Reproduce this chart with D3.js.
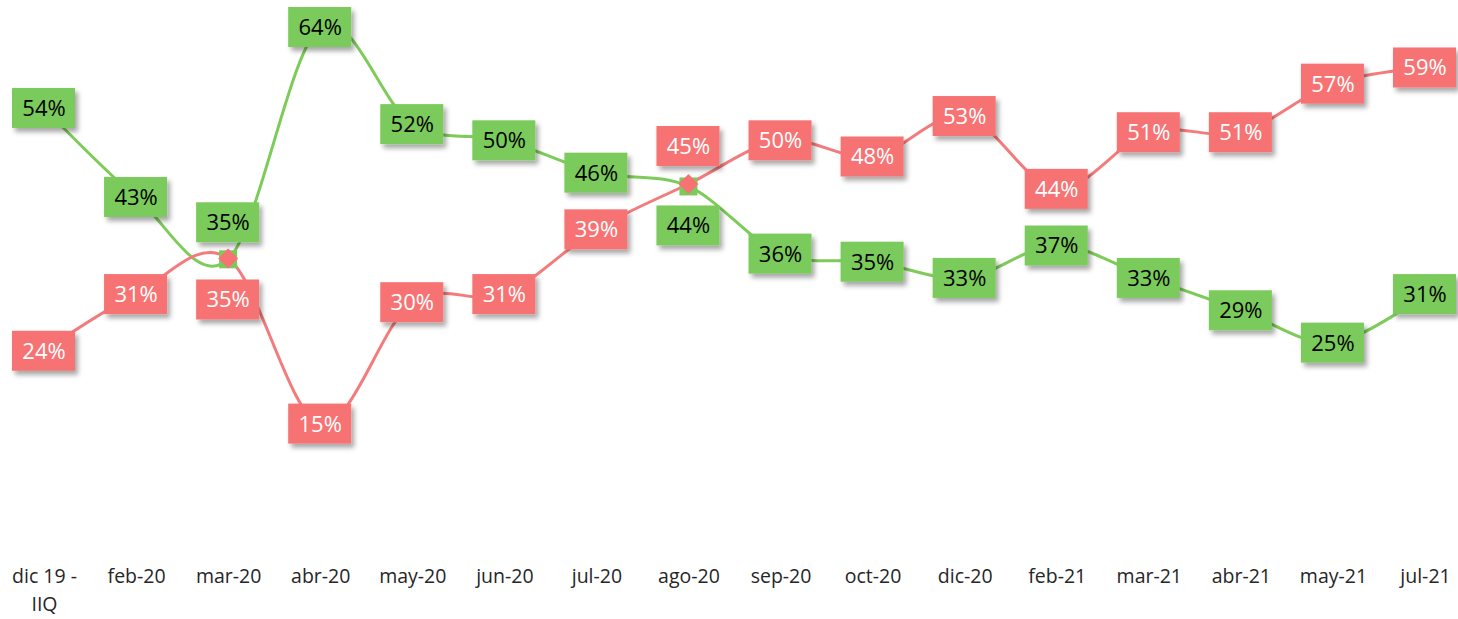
<!DOCTYPE html>
<html>
<head>
<meta charset="utf-8">
<script src="https://d3js.org/d3.v7.min.js"></script>
<style>
  html, body { margin: 0; padding: 0; background: #fff; }
  svg { display: block; }
</style>
</head>
<body>
<div id="chart"></div>
<script>
// categories and values
var categories = ["dic 19 - IIQ", "feb-20", "mar-20", "abr-20", "may-20", "jun-20", "jul-20", "ago-20",
  "sep-20", "oct-20", "dic-20", "feb-21", "mar-21", "abr-21", "may-21", "jul-21"];
var greenValues = [54, 43, 35.3, 64, 52, 50, 46, 44.3, 36, 35, 33, 37, 33, 29, 25, 31];
var redValues = [24, 31, 35.4, 15, 30, 31, 39, 44.6, 50, 48, 53, 44, 51, 51, 57, 59];

var width = 1458, height = 619;
var greenColor = "#7acb5b", redColor = "#f77373";
var greenLine = "#7dcb58", redLine = "#f47b7b";

// labels moved away from the crossing points (index -> vertical shift)
var greenShift = { 2: -37, 7: 39 };
var redShift = { 2: 41, 7: -38 };

var svg = d3.select("#chart").append("svg")
  .attr("width", width)
  .attr("height", height)
  .style("font-family", "'Open Sans', sans-serif");

var defs = svg.append("defs");
var f = defs.append("filter").attr("id", "shadow")
  .attr("x", "-20%").attr("y", "-20%").attr("width", "150%").attr("height", "160%");
f.append("feDropShadow")
  .attr("dx", 3).attr("dy", 4)
  .attr("stdDeviation", 2.5)
  .attr("flood-color", "#000")
  .attr("flood-opacity", 0.35);

var x = d3.scalePoint().domain(categories).range([44, 1425]);
var y = d3.scaleLinear().domain([0, 64]).range([545, 27]);

var line = d3.line()
  .x(function (d, i) { return x(categories[i]); })
  .y(function (d) { return y(d); })
  .curve(d3.curveCatmullRom.alpha(0));

// x axis, no line, no ticks
var xAxis = svg.append("g")
  .attr("transform", "translate(0,569)")
  .call(d3.axisBottom(x).tickSize(0).tickPadding(0));
xAxis.select(".domain").remove();
xAxis.selectAll("text")
  .attr("fill", "#262626")
  .style("font-size", "19.5px")
  .style("font-family", "'Open Sans', sans-serif")
  .attr("dy", "0.71em")
  .each(function (d) {
    var t = d3.select(this);
    if (d.indexOf(" - ") > -1) {
      var parts = d.split(" - ");
      t.text(null);
      t.append("tspan").attr("x", 0).attr("dy", "0.71em").text(parts[0] + " -");
      t.append("tspan").attr("x", 0).attr("dy", "1.45em").text(parts[1]);
      t.attr("dy", null);
    }
  });

// lines
svg.append("path").datum(greenValues)
  .attr("d", line).attr("fill", "none")
  .attr("stroke", greenLine).attr("stroke-width", 3);
svg.append("path").datum(redValues)
  .attr("d", line).attr("fill", "none")
  .attr("stroke", redLine).attr("stroke-width", 3);

// markers
svg.append("g").selectAll("rect")
  .data(greenValues).enter().append("rect")
  .attr("x", function (d, i) { return x(categories[i]) - 9; })
  .attr("y", function (d) { return y(d) - 9; })
  .attr("width", 18).attr("height", 18)
  .attr("fill", greenColor);
svg.append("g").selectAll("path")
  .data(redValues).enter().append("path")
  .attr("d", d3.symbol().type(d3.symbolSquare).size(200))
  .attr("transform", function (d, i) {
    return "translate(" + x(categories[i]) + "," + y(d) + ") rotate(45)";
  })
  .attr("fill", redColor);

// data labels
function drawLabels(values, color, textColor, shift) {
  var g = svg.append("g").selectAll("g")
    .data(values).enter().append("g")
    .attr("transform", function (d, i) {
      var dy = shift[i] || 0;
      return "translate(" + x(categories[i]) + "," + (y(d) + dy) + ")";
    });
  g.append("rect")
    .attr("x", -32).attr("y", -20)
    .attr("width", 63).attr("height", 40)
    .attr("fill", color)
    .attr("filter", "url(#shadow)");
  g.append("text")
    .attr("text-anchor", "middle")
    .attr("dy", "0.36em")
    .attr("fill", textColor)
    .style("font-size", "22px")
    .text(function (d) { return Math.round(d) + "%"; });
}
drawLabels(greenValues, greenColor, "#000", greenShift);
drawLabels(redValues, redColor, "#fff", redShift);
</script>
</body>
</html>
